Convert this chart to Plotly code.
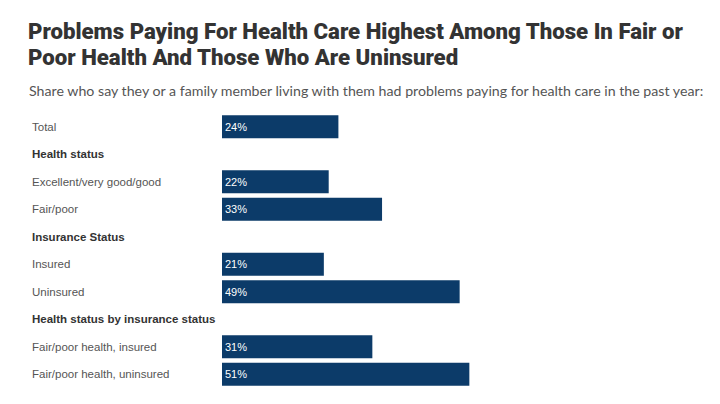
import plotly.graph_objects as go

categories = [
    "Total",
    "Health status",
    "Excellent/very good/good",
    "Fair/poor",
    "Insurance Status",
    "Insured",
    "Uninsured",
    "Health status by insurance status",
    "Fair/poor health, insured",
    "Fair/poor health, uninsured",
]
is_header = [False, True, False, False, True, False, False, True, False, False]
values = [24, None, 22, 33, None, 21, 49, None, 31, 51]

title_lines = [
    "Problems Paying For Health Care Highest Among Those In Fair or",
    "Poor Health And Those Who Are Uninsured",
]
subtitle = "Share who say they or a family member living with them had problems paying for health care in the past year:"

BAR = "#0c3b69"
W, H = 720, 404
OFF = 8  # page offset of the figure in the browser
L, R_ = 222 - OFF, 200
T, B = 113 - OFF, 16 + OFF
plot_w = W - L - R_
plot_h = H - T - B
xmax = (plot_w) / 4.85

def px_to_paper_x(px):
    return (px - OFF - L) / plot_w

def px_to_paper_y(py):
    return 1 - (py - OFF - T) / plot_h

fig = go.Figure()
fig.add_trace(go.Bar(
    y=categories,
    x=values,
    orientation="h",
    marker=dict(color=BAR, line=dict(width=0)),
    width=0.84,
    text=[f"{v}%" if v is not None else "" for v in values],
    textposition="inside",
    insidetextanchor="start",
    textfont=dict(family="Liberation Sans, Arial, sans-serif", size=11, color="#ffffff"),
    hoverinfo="skip",
    cliponaxis=False,
))

annotations = []
for cat, hdr in zip(categories, is_header):
    annotations.append(dict(
        x=px_to_paper_x(30), xref="paper",
        y=cat, yref="y",
        text=f"<b>{cat}</b>" if hdr else cat,
        showarrow=False, xanchor="left", yanchor="middle",
        font=dict(family="Liberation Sans, Arial, sans-serif", size=11.5,
                  color="#333333" if hdr else "#555555"),
    ))

for i, line in enumerate(title_lines):
    annotations.append(dict(
        x=px_to_paper_x(26), xref="paper", y=px_to_paper_y(31 + 26.2 * i), yref="paper",
        xanchor="left", yanchor="middle", showarrow=False, align="left",
        text=line,
        font=dict(family="Roboto, sans-serif", size=22.2, color="#333333", weight=900),
    ))
annotations.append(dict(
    x=px_to_paper_x(27), xref="paper", y=px_to_paper_y(91), yref="paper",
    xanchor="left", yanchor="middle", showarrow=False, align="left",
    text=subtitle,
    font=dict(family="Lato, sans-serif", size=14.2, color="#555555"),
))

fig.update_layout(
    width=W, height=H,
    margin=dict(l=L, r=R_, t=T, b=B),
    paper_bgcolor="white", plot_bgcolor="white",
    showlegend=False,
    annotations=annotations,
    xaxis=dict(range=[0, xmax], visible=False, fixedrange=True),
    yaxis=dict(categoryorder="array", categoryarray=categories,
               autorange="reversed", showticklabels=False,
               showgrid=False, zeroline=False, showline=False, ticks=""),
    uniformtext=dict(minsize=11, mode="show"),
)

fig.write_html("out.html")
